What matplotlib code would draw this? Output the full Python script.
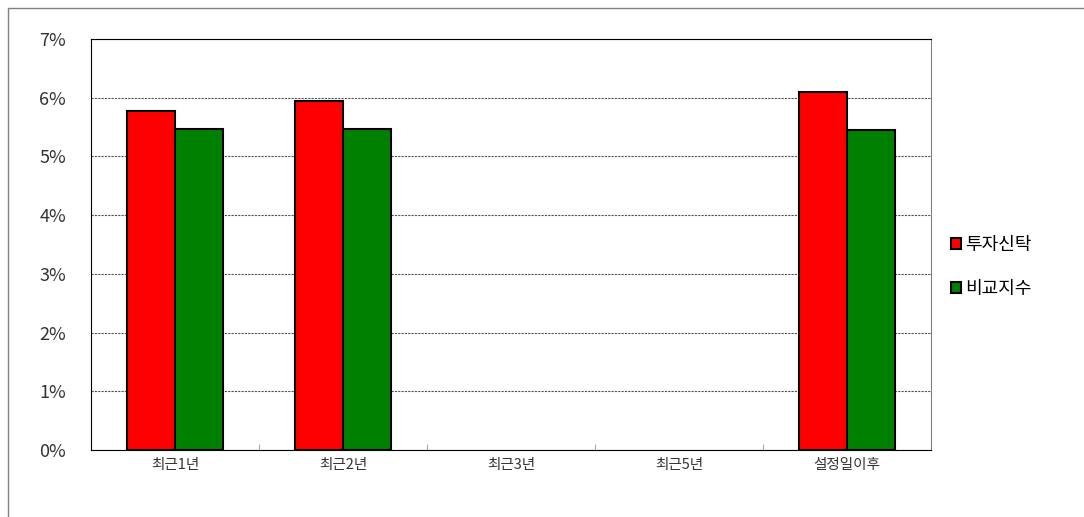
import numpy as np
import matplotlib.pyplot as plt
from matplotlib.patches import Rectangle

plt.rcParams['font.family'] = ['Noto Sans CJK KR', 'DejaVu Sans']

categories = ['최근1년', '최근2년', '최근3년', '최근5년', '설정일이후']
fund = [5.77, 5.95, np.nan, np.nan, 6.10]     # 투자신탁
bench = [5.47, 5.47, np.nan, np.nan, 5.45]    # 비교지수

fig = plt.figure(figsize=(10.84, 5.17), dpi=100)
# outer chart border (grey)
fig.patches.append(Rectangle((8/1084, -0.1), 1.2, (517-8)/517 + 0.1,
                             transform=fig.transFigure, fill=False,
                             edgecolor='#808080', lw=1))
ax = fig.add_axes([91/1084, 1-450/517, 840/1084, 411/517])

x = np.arange(len(categories))
w = 0.286
ax.bar(x - w/2, fund, w, color='#ff0000', edgecolor='black', lw=1.5, label='투자신탁', zorder=3)
ax.bar(x + w/2, bench, w, color='#008000', edgecolor='black', lw=1.5, label='비교지수', zorder=3)

ax.set_xlim(-0.5, len(categories) - 0.5)
ax.set_ylim(0, 7)
ax.set_yticks(range(8))
ax.set_yticklabels([f'{i}%' for i in range(8)], fontsize=13, color='#333333')
ax.yaxis.grid(True, linestyle=(0, (2, 1)), color='#555555', lw=0.8, zorder=0)
ax.tick_params(axis='y', length=0, pad=18)

ax.set_xticks(x)
ax.set_xticklabels(categories, fontsize=10.5, color='#333333')
ax.tick_params(axis='x', length=0, pad=5.5)
ax.set_xticks(np.arange(len(categories) + 1) - 0.5, minor=True)
ax.tick_params(axis='x', which='minor', direction='in', length=4, color='#999999')

for s in ['left', 'bottom', 'top']:
    ax.spines[s].set_color('black')
ax.spines['right'].set_color('#808080')

ax.legend(loc='center left', bbox_to_anchor=(1.005, 0.445), frameon=False,
          fontsize=13, handlelength=0.55, handleheight=0.55, handletextpad=0.2,
          labelspacing=1.45)

fig.savefig('out.png', dpi=100)
